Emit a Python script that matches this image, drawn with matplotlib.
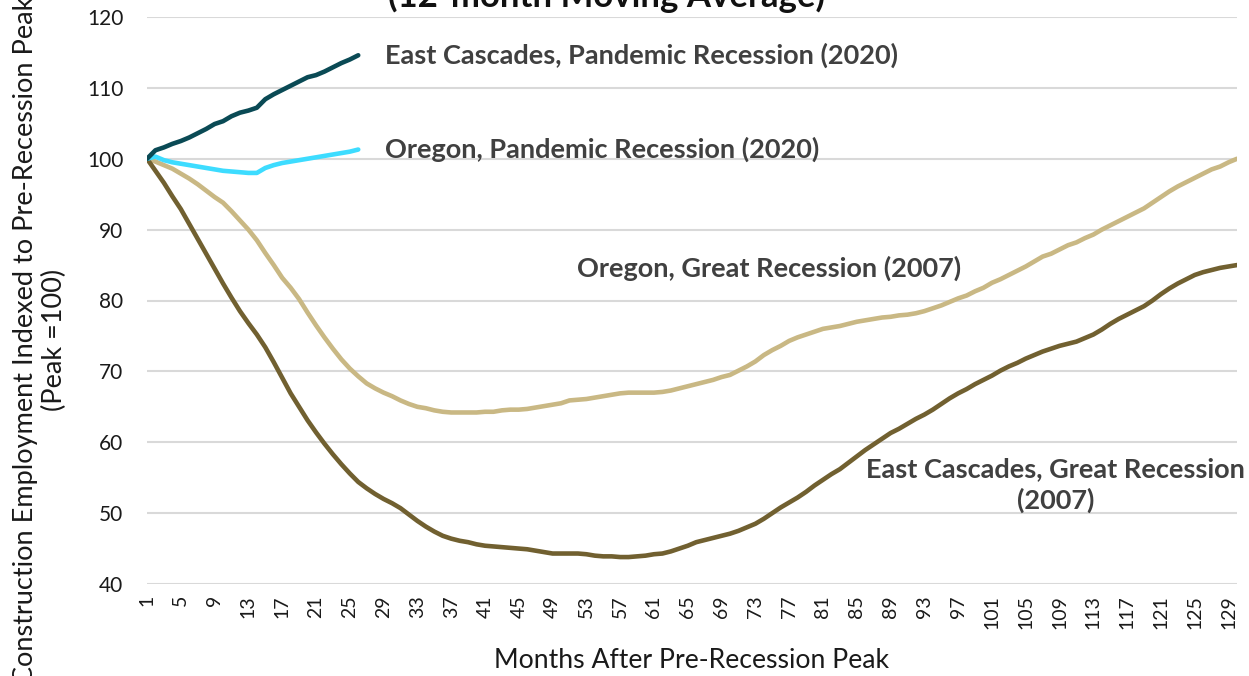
import matplotlib
matplotlib.use('Agg')
import matplotlib.pyplot as plt
import numpy as np

# ── Data (index, peak = 100, 12-month moving average) ─────
ec_pandemic = [100.0, 101.2, 101.6, 102.1, 102.5, 103.0, 103.6, 104.2, 104.9, 105.3,
               106.0, 106.5, 106.8, 107.2, 108.4, 109.1, 109.7, 110.3, 110.9, 111.5,
               111.8, 112.3, 112.9, 113.5, 114.0, 114.6]

or_pandemic = [100.0, 100.3, 99.8, 99.5, 99.3, 99.1, 98.9, 98.7, 98.5, 98.3,
               98.2, 98.1, 98.0, 98.0, 98.7, 99.1, 99.4, 99.6, 99.8, 100.0,
               100.2, 100.4, 100.6, 100.8, 101.0, 101.3]

or_great = [100.0, 99.6, 99.1, 98.6, 97.9, 97.2, 96.4, 95.5, 94.6, 93.8,
            92.6, 91.3, 90.0, 88.5, 86.7, 85.0, 83.2, 81.8, 80.2, 78.3,
            76.5, 74.8, 73.2, 71.7, 70.4, 69.3, 68.3, 67.6, 67.0, 66.5,
            65.9, 65.4, 65.0, 64.8, 64.5, 64.3, 64.2, 64.2, 64.2, 64.2,
            64.3, 64.3, 64.5, 64.6, 64.6, 64.7, 64.9, 65.1, 65.3, 65.5,
            65.9, 66.0, 66.1, 66.3, 66.5, 66.7, 66.9, 67.0, 67.0, 67.0,
            67.0, 67.1, 67.3, 67.6, 67.9, 68.2, 68.5, 68.8, 69.2, 69.5,
            70.1, 70.7, 71.4, 72.3, 73.0, 73.6, 74.3, 74.8, 75.2, 75.6,
            76.0, 76.2, 76.4, 76.7, 77.0, 77.2, 77.4, 77.6, 77.7, 77.9,
            78.0, 78.2, 78.5, 78.9, 79.3, 79.8, 80.3, 80.7, 81.3, 81.8,
            82.5, 83.0, 83.6, 84.2, 84.8, 85.5, 86.2, 86.6, 87.2, 87.8,
            88.2, 88.8, 89.3, 90.0, 90.6, 91.2, 91.8, 92.4, 93.0, 93.8,
            94.6, 95.4, 96.1, 96.7, 97.3, 97.9, 98.5, 98.9, 99.5, 100.0]

ec_great = [100.0, 98.3, 96.6, 94.7, 92.9, 90.8, 88.7, 86.6, 84.5, 82.4,
            80.4, 78.5, 76.8, 75.2, 73.4, 71.3, 69.1, 66.9, 65.0, 63.1,
            61.4, 59.8, 58.3, 56.9, 55.6, 54.4, 53.5, 52.7, 52.0, 51.4,
            50.7, 49.8, 48.9, 48.1, 47.4, 46.8, 46.4, 46.1, 45.9, 45.6,
            45.4, 45.3, 45.2, 45.1, 45.0, 44.9, 44.7, 44.5, 44.3, 44.3,
            44.3, 44.3, 44.2, 44.0, 43.9, 43.9, 43.8, 43.8, 43.9, 44.0,
            44.2, 44.3, 44.6, 45.0, 45.4, 45.9, 46.2, 46.5, 46.8, 47.1,
            47.5, 48.0, 48.5, 49.2, 50.0, 50.8, 51.5, 52.2, 53.0, 53.9,
            54.7, 55.5, 56.2, 57.1, 58.0, 58.9, 59.7, 60.5, 61.3, 61.9,
            62.6, 63.3, 63.9, 64.6, 65.4, 66.2, 66.9, 67.5, 68.2, 68.8,
            69.4, 70.1, 70.7, 71.2, 71.8, 72.3, 72.8, 73.2, 73.6, 73.9,
            74.2, 74.7, 75.2, 75.9, 76.7, 77.4, 78.0, 78.6, 79.2, 80.0,
            80.9, 81.7, 82.4, 83.0, 83.6, 84.0, 84.3, 84.6, 84.8, 85.0]

x_ticks = list(range(1, 130, 4))

plt.rcParams['font.family'] = ['Lato', 'DejaVu Sans']

W, H = 1249, 676
fig = plt.figure(figsize=(W / 100, H / 100), dpi=100)
ax = fig.add_axes([147 / W, 1 - 584 / H, (1237 - 147) / W, (584 - 17) / H])

lw = 3.3
ax.plot(range(1, len(or_great) + 1), or_great, color='#c9b884', lw=lw, solid_capstyle='round', zorder=3)
ax.plot(range(1, len(ec_great) + 1), ec_great, color='#716030', lw=lw, solid_capstyle='round', zorder=3)
ax.plot(range(1, len(or_pandemic) + 1), or_pandemic, color='#3ddcff', lw=lw, solid_capstyle='round', zorder=4)
ax.plot(range(1, len(ec_pandemic) + 1), ec_pandemic, color='#0a4a55', lw=lw, solid_capstyle='round', zorder=5)

ax.set_xlim(1, 130)
ax.set_ylim(40, 120)
ax.set_yticks(range(40, 121, 10))
ax.set_xticks(x_ticks)
ax.set_xticklabels([str(t) for t in x_ticks], rotation=90, fontsize=14, color='#1a1a1a')
ax.tick_params(axis='y', labelsize=15, colors='#1a1a1a', length=0, pad=17)
ax.tick_params(axis='x', length=0, pad=8)
ax.grid(True, axis='y', color='#d9d9d9', lw=1.5, zorder=0)
for s in ax.spines.values():
    s.set_visible(False)

# ── Series labels ─────────────────────────────────────────
lab = dict(fontsize=19.5, fontweight='bold', color='#404040')
ax.text(29.2, 114.6, 'East Cascades, Pandemic Recession (2020)', va='center', ha='left', **lab)
ax.text(29.2, 101.3, 'Oregon, Pandemic Recession (2020)', va='center', ha='left', **lab)
ax.text(51.9, 84.5, 'Oregon, Great Recession (2007)', va='center', ha='left', **lab)
ax.text(108.5, 54.0, 'East Cascades, Great Recession\n(2007)', va='center', ha='center',
        linespacing=1.3, **lab)

# ── Titles ───────────────────────────────────────────────
fig.text(607 / W, 1 - 7 / H, '(12-month Moving Average)', ha='center', va='baseline',
         fontsize=25, fontweight='bold', color='#111111')
fig.text(692 / W, 1 - 661 / H, 'Months After Pre-Recession Peak', ha='center', va='center',
         fontsize=19.2, color='#1a1a1a')
fig.text(40 / W, 1 - 340 / H,
         'Construction Employment Indexed to Pre-Recession Peak\n(Peak =100)',
         ha='center', va='center', rotation=90, fontsize=19.5, color='#1a1a1a', linespacing=1.2)

fig.savefig('out.png', dpi=100)
